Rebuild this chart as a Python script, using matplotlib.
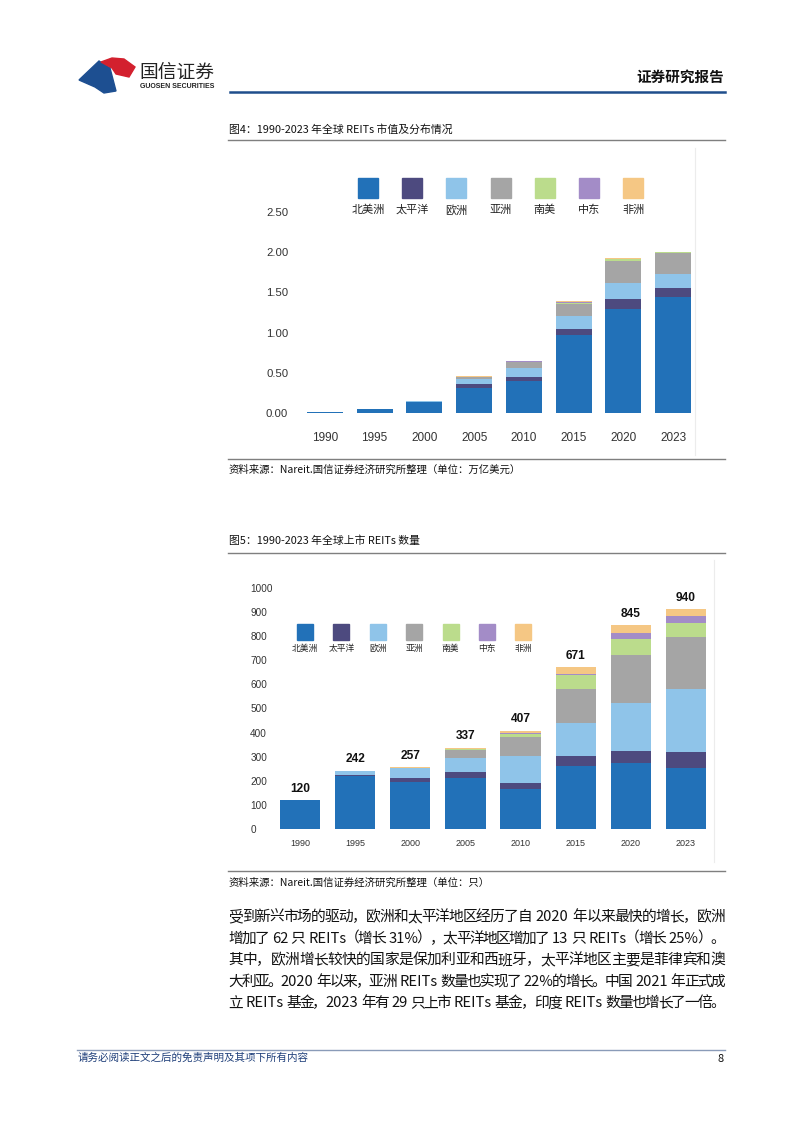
import matplotlib
matplotlib.use('Agg')
import matplotlib.pyplot as plt
import numpy as np
from matplotlib.patches import Rectangle, Polygon
from matplotlib.lines import Line2D

plt.rcParams['font.family'] = ['Noto Sans CJK SC', 'DejaVu Sans']

# 数据
years = ['1990', '1995', '2000', '2005', '2010', '2015', '2020', '2023']
regions = ['北美洲', '太平洋', '欧洲', '亚洲', '南美', '中东', '非洲']
colors = ['#2271b8', '#4d4a7f', '#8fc4e9', '#a5a5a5', '#bbdc8c', '#a38cc7', '#f5c784']

# 图4 市值（万亿美元）
cap_na = [0.015, 0.045, 0.14, 0.31, 0.40, 0.975, 1.29, 1.44]
cap_pac = [0, 0, 0.003, 0.05, 0.045, 0.075, 0.13, 0.115]
cap_eur = [0, 0, 0.003, 0.065, 0.11, 0.155, 0.195, 0.18]
cap_asia = [0, 0, 0.002, 0.025, 0.075, 0.155, 0.28, 0.26]
cap_sa = [0, 0, 0, 0.003, 0.01, 0.01, 0.015, 0.004]
cap_me = [0, 0, 0, 0, 0.003, 0.005, 0.005, 0.003]
cap_afr = [0, 0, 0.004, 0.005, 0.01, 0.02, 0.015, 0.003]

# 图5 数量（只）
num_na = [120, 220, 197, 210, 167, 263, 275, 253]
num_pac = [0, 4, 14, 25, 24, 38, 50, 65]
num_eur = [0, 16, 41, 61, 113, 140, 198, 263]
num_asia = [0, 2, 2, 31, 78, 140, 199, 214]
num_sa = [0, 0, 0, 3, 14, 58, 65, 61]
num_me = [0, 0, 0, 1, 2, 4, 25, 28]
num_afr = [0, 0, 3, 6, 9, 28, 33, 28]
num_total = [120, 242, 257, 337, 407, 671, 845, 940]

body_lines = [
    '受到新兴市场的驱动，欧洲和太平洋地区经历了自 2020 年以来最快的增长，欧洲',
    '增加了 62 只 REITs（增长 31%），太平洋地区增加了 13 只 REITs（增长 25%）。',
    '其中，欧洲增长较快的国家是保加利亚和西班牙，太平洋地区主要是菲律宾和澳',
    '大利亚。2020 年以来，亚洲 REITs 数量也实现了 22%的增长。中国 2021 年正式成',
    '立 REITs 基金，2023 年有 29 只上市 REITs 基金，印度 REITs 数量也增长了一倍。',
]

W, H = 802, 1133
fig = plt.figure(figsize=(W / 100, H / 100), dpi=100)
fig.patch.set_facecolor('white')


def fx(x):
    return x / W


def fy(y):
    return 1 - y / H


def hline(x0, x1, y, color, lw):
    fig.add_artist(Line2D([fx(x0), fx(x1)], [fy(y), fy(y)], color=color, lw=lw))


# 页眉
fig.add_artist(Polygon([(fx(79), fy(80)), (fx(99), fy(61)), (fx(110), fy(68)),
                        (fx(116), fy(91)), (fx(104), fy(93)), (fx(95), fy(87))],
                       closed=True, color='#1d4f91'))
fig.add_artist(Polygon([(fx(101), fy(62)), (fx(112), fy(58)), (fx(124), fy(59)),
                        (fx(135), fy(67)), (fx(129), fy(77)), (fx(116), fy(74)),
                        (fx(112), fy(68))],
                       closed=True, color='#d3202e'))
fig.text(fx(139), fy(72), '国信证券', fontsize=13.5, color='#222222', va='center', ha='left')
fig.text(fx(140), fy(87), 'GUOSEN SECURITIES', fontsize=5, color='#222222', va='center',
         ha='left', family='Liberation Sans', fontweight='bold')
fig.text(fx(724), fy(77), '证券研究报告', fontsize=10.5, fontweight='bold', color='#111111',
         va='center', ha='right')
hline(230, 725, 92, '#1f4e8c', 1.8)

# 图4 标题
fig.text(fx(229), fy(130), '图4：1990-2023 年全球 REITs 市值及分布情况', fontsize=7.8,
         color='#111111', va='center', ha='left')
hline(228, 725, 140, '#7f7f7f', 1.0)
fig.add_artist(Line2D([fx(695), fx(695)], [fy(148), fy(455)], color='#ececec', lw=0.8))

ax1 = fig.add_axes([fx(300), fy(413), (698 - 300) / W, (413 - 208) / H])
x = np.arange(len(years))
bottom = np.zeros(len(years))
for vals, c in zip([cap_na, cap_pac, cap_eur, cap_asia, cap_sa, cap_me, cap_afr], colors):
    ax1.bar(x, vals, width=0.72, bottom=bottom, color=c, linewidth=0)
    bottom += np.array(vals)
ax1.set_xlim(-0.5, len(years) - 0.5)
ax1.set_ylim(0, 2.55)
ax1.set_yticks([0, 0.5, 1.0, 1.5, 2.0, 2.5])
ax1.set_yticklabels(['0.00', '0.50', '1.00', '1.50', '2.00', '2.50'])
ax1.set_xticks(x)
ax1.set_xticklabels(years)
ax1.tick_params(axis='y', length=0, pad=8.5, labelsize=8.2, labelcolor='#333333')
ax1.tick_params(axis='x', length=0, pad=13.5, labelsize=8.5, labelcolor='#333333')
for lbl in ax1.get_xticklabels() + ax1.get_yticklabels():
    lbl.set_family('Liberation Sans')
for s in ax1.spines.values():
    s.set_visible(False)

# 图4 图例
for i, (name, c) in enumerate(zip(regions, colors)):
    cx = 368 + i * 44.2
    fig.add_artist(Rectangle((fx(cx - 10), fy(198)), 20 / W, 20 / H, color=c))
    fig.text(fx(cx), fy(210), name, fontsize=8, color='#222222', ha='center', va='center')

# 资料来源
hline(228, 725, 459, '#7f7f7f', 1.0)
fig.text(fx(229), fy(470), '资料来源：Nareit.国信证券经济研究所整理（单位：万亿美元）',
         fontsize=7.5, color='#111111', va='center', ha='left')

# 图5 标题
fig.text(fx(229), fy(541), '图5：1990-2023 年全球上市 REITs 数量', fontsize=7.8,
         color='#111111', va='center', ha='left')
hline(228, 725, 553, '#7f7f7f', 1.0)
fig.add_artist(Line2D([fx(714), fx(714)], [fy(560), fy(862)], color='#ececec', lw=0.8))

ax2 = fig.add_axes([fx(272.4), fy(829), (713.6 - 272.4) / W, 241 / H])
bottom = np.zeros(len(years))
for vals, c in zip([num_na, num_pac, num_eur, num_asia, num_sa, num_me, num_afr], colors):
    ax2.bar(x, vals, width=0.73, bottom=bottom, color=c, linewidth=0)
    bottom += np.array(vals)
for i, t in enumerate(num_total):
    ax2.annotate(str(t), (x[i], bottom[i]), xytext=(0, 4), textcoords='offset points',
                 ha='center', va='bottom', fontsize=8.6, fontweight='bold',
                 family='Liberation Sans', color='#111111')
ax2.set_xlim(-0.5, len(years) - 0.5)
ax2.set_ylim(0, 1000)
ax2.set_yticks(np.arange(0, 1001, 100))
ax2.set_xticks(x)
ax2.set_xticklabels(years)
ax2.tick_params(axis='y', length=0, pad=16, labelsize=7.2, labelcolor='#333333')
ax2.tick_params(axis='x', length=0, pad=7, labelsize=6.5, labelcolor='#333333')
for lbl in ax2.get_yticklabels():
    lbl.set_horizontalalignment('left')
for lbl in ax2.get_xticklabels() + ax2.get_yticklabels():
    lbl.set_family('Liberation Sans')
for s in ax2.spines.values():
    s.set_visible(False)

# 图5 图例
for i, (name, c) in enumerate(zip(regions, colors)):
    cx = 305 + i * 36.4
    fig.add_artist(Rectangle((fx(cx - 8), fy(640)), 16 / W, 16 / H, color=c))
    fig.text(fx(cx), fy(648), name, fontsize=6.3, color='#222222', ha='center', va='center')

hline(228, 725, 871, '#7f7f7f', 1.0)
fig.text(fx(229), fy(883), '资料来源：Nareit.国信证券经济研究所整理（单位：只）',
         fontsize=7.5, color='#111111', va='center', ha='left')


# 正文（两端对齐），空格单独成块
def tokens(s):
    out, buf = [], ''
    for ch in s:
        if ch == ' ' or ord(ch) >= 128:
            if buf:
                out.append(buf)
                buf = ''
            out.append(ch)
        else:
            buf += ch
    if buf:
        out.append(buf)
    return out


renderer = fig.canvas.get_renderer()
body_fs = 10.6
space_w = 0.4 * body_fs * 100 / 72
x_left, x_right = 228, 725
for k, line in enumerate(body_lines):
    yy = 917 + k * 21.6
    toks = tokens(line)
    arts, widths = [], []
    for t in toks:
        if t == ' ':
            arts.append(None)
            widths.append(space_w)
        else:
            a = fig.text(0, fy(yy), t, fontsize=body_fs, color='#111111', va='center', ha='left')
            arts.append(a)
            widths.append(a.get_window_extent(renderer).width)
    gap = (x_right - x_left - sum(widths)) / max(len(toks) - 1, 1)
    cur = x_left
    for a, w in zip(arts, widths):
        if a is not None:
            a.set_x(fx(cur))
        cur += w + gap

# 页脚
hline(77, 725, 1050, '#8a9bb8', 1.0)
fig.text(fx(78), fy(1058), '请务必阅读正文之后的免责声明及其项下所有内容', fontsize=7.6,
         color='#1f3f7a', va='center', ha='left', style='italic')
fig.text(fx(724), fy(1059), '8', fontsize=8, color='#111111', va='center', ha='right')

fig.savefig('out.png', dpi=100, facecolor='white')
